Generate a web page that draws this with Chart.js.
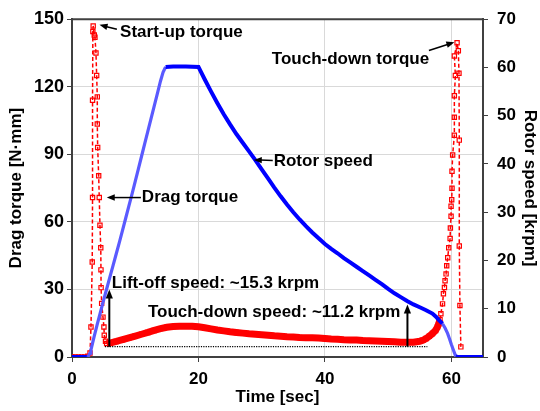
<!DOCTYPE html>
<html>
<head>
<meta charset="utf-8">
<script src="https://cdn.jsdelivr.net/npm/chart.js@4"></script>
<style>
  html, body { margin: 0; padding: 0; background: #fff; }
  #wrap { width: 540px; height: 411px; }
</style>
</head>
<body>
<div id="wrap"><canvas id="chart" width="540" height="411"></canvas></div>
<script>
// ===== Data =====
// Rotor speed (right axis, krpm)
const speedTime = [0, 1, 2, 2.5, 2.85, 3, 3.5, 4, 4.5, 5, 5.5, 6, 6.5, 7, 7.5, 8, 8.5, 9, 9.5, 10,
  10.5, 11, 11.5, 12, 12.5, 13, 13.5, 14, 14.4, 14.8, 16, 18, 20,
  21, 22, 23, 24, 25, 26, 27, 28, 29, 30, 31, 32, 33, 34, 35, 36, 37, 38, 39, 40,
  41, 42, 43, 44, 45, 46, 47, 48, 49, 50, 51, 52, 53, 54, 55, 56, 57, 57.6, 58, 58.6,
  59, 59.4, 59.7, 60, 60.3, 60.5, 60.7, 61, 62, 63, 64, 65];
const speedKrpm = [0, 0, 0, 0, 0.8, 1.5, 4.2, 6.8, 9.3, 11.8, 14.2, 16.6, 19, 21.4, 23.8, 26.3, 28.8, 31.3, 33.8, 36.4,
  39, 41.6, 44.2, 46.8, 49.4, 52, 54.6, 57.2, 59, 60.1, 60.2, 60.2, 60.1,
  57.5, 55, 52.6, 50.3, 48.2, 46.2, 44.4, 42.6, 40.8, 38.9, 37, 35.1, 33.3, 31.6, 30, 28.5, 27.1, 25.8, 24.6, 23.4,
  22.4, 21.5, 20.5, 19.6, 18.7, 17.8, 16.9, 16, 15.1, 14.1, 13.2, 12.4, 11.6, 10.9, 10.3, 9.7, 9, 8.3, 7.7, 6.9,
  6, 4.9, 3.8, 2.6, 1.5, 0.8, 0.1, 0, 0, 0, 0, 0];

// Drag torque (left axis, N·mm)
const torqueTime = [0, 0.5, 1, 1.5, 2, 2.5, 2.85, 3, 3.2, 3.25, 3.25, 3.3, 3.35,
  3.52, 3.63, 3.79, 3.9, 4, 4, 4.06, 4.22, 4.31, 4.42, 4.55, 4.58, 4.6, 4.69, 4.9, 5.05, 5.1, 5.3, 5.48,
  6, 7, 8, 9, 10, 11, 12, 13, 14, 15, 16, 17, 18, 19, 20, 21, 22, 23, 24, 25, 26, 27, 28, 29, 30,
  31, 32, 33, 34, 35, 36, 37, 38, 39, 40, 41, 42, 43, 44, 45, 46, 47, 48, 49, 50, 51, 52, 53, 54, 55,
  55.5, 56, 56.5, 57, 57.5, 57.8, 58, 58.2,
  58.34, 58.6, 58.74, 58.9, 59, 59.16, 59.26, 59.42, 59.58, 59.8, 59.84, 59.95, 59.95, 60.05, 60.1, 60.1,
  60.2, 60.47, 60.47, 60.47, 60.63, 60.47, 60.9,
  61.1, 61.2, 61.25, 61.25, 61.35, 61.5];
const torqueNmm = [0, 0, 0, 0, 0, 0.3, 1.8, 13.3, 42.2, 70.8, 114, 144.5, 147,
  143, 142, 135, 125, 115.5, 103.5, 93, 80.5, 70.8, 58.5, 48.5, 38.7, 30.8, 23.8, 17.7, 13.3, 9.7, 7, 6,
  6.2, 6.9, 7.7, 8.5, 9.3, 10.1, 10.9, 11.8, 12.6, 13.2, 13.5, 13.7, 13.7, 13.7, 13.4, 13, 12.5, 12, 11.6, 11.2, 10.9, 10.6, 10.3, 10.1, 9.9,
  9.7, 9.4, 9.2, 9, 8.9, 8.7, 8.6, 8.5, 8.4, 8.2, 8, 7.9, 7.7, 7.6, 7.5, 7.3, 7.2, 7.1, 7, 6.9, 6.8, 6.6, 6.5, 6.6, 7,
  7.4, 8.2, 9.2, 10.4, 11.8, 13.3, 14.8, 16.6,
  19.2, 23.6, 28.1, 30.9, 33.9, 36.9, 40.5, 44.1, 48.5, 52.6, 57.3, 62.5, 66.9, 69.8, 74.9, 82.5,
  89.7, 98.5, 106.5, 116, 125, 133.7, 139.5,
  136, 126, 96.3, 49.3, 22.9, 4.5];

// Axis ticks
const timeTicks = [0, 20, 40, 60];
const torqueTicks = [0, 30, 60, 90, 120, 150];
const speedTicks = [0, 10, 20, 30, 40, 50, 60, 70];

const FONT = '"Liberation Sans", Arial, sans-serif';
const AXIS = '#404040';
const GRID = '#d9d9d9';

function xy(ts, vs) {
  return ts.map((t, i) => ({ x: t, y: vs[i] }));
}

function setTicks(list) {
  return scale => { scale.ticks = list.map(v => ({ value: v })); };
}

// ===== Annotations (arrows, texts, dotted line) =====
const notes = {
  id: 'notes',
  afterDatasetsDraw(chart) {
    const { ctx, chartArea } = chart;
    const sx = chart.scales.x, sy = chart.scales.yL;
    const P = (t, v) => [sx.getPixelForValue(t), sy.getPixelForValue(v)];

    ctx.save();
    // top frame line
    ctx.strokeStyle = AXIS;
    ctx.lineWidth = 2;
    ctx.beginPath();
    ctx.moveTo(chartArea.left - 1, chartArea.top);
    ctx.lineTo(chartArea.right + 1, chartArea.top);
    ctx.stroke();

    // dotted baseline
    let a = P(5.2, 4.6), b = P(56.2, 4.6);
    ctx.strokeStyle = '#000';
    ctx.lineWidth = 1.3;
    ctx.setLineDash([1.2, 1.2]);
    ctx.beginPath();
    ctx.moveTo(a[0], a[1]);
    ctx.lineTo(b[0], b[1]);
    ctx.stroke();
    ctx.setLineDash([]);

    function arrow(from, to, w, head) {
      const [x1, y1] = from, [x2, y2] = to;
      const ang = Math.atan2(y2 - y1, x2 - x1);
      ctx.strokeStyle = '#000';
      ctx.fillStyle = '#000';
      ctx.lineWidth = w;
      ctx.beginPath();
      ctx.moveTo(x1, y1);
      ctx.lineTo(x2 - Math.cos(ang) * head * 0.8, y2 - Math.sin(ang) * head * 0.8);
      ctx.stroke();
      ctx.beginPath();
      ctx.moveTo(x2, y2);
      ctx.lineTo(x2 - head * Math.cos(ang) + head * 0.4 * Math.sin(ang), y2 - head * Math.sin(ang) - head * 0.4 * Math.cos(ang));
      ctx.lineTo(x2 - head * Math.cos(ang) - head * 0.4 * Math.sin(ang), y2 - head * Math.sin(ang) + head * 0.4 * Math.cos(ang));
      ctx.closePath();
      ctx.fill();
    }

    arrow(P(7.1, 145.5), P(4.35, 147.5), 1.5, 8);
    arrow(P(56.45, 136.1), P(60.47, 139.8), 1.5, 8);
    arrow(P(31.75, 87.3), P(28.75, 87.5), 1.5, 8);
    arrow(P(10.9, 70.8), P(5.5, 70.8), 1.5, 8);
    arrow(P(5.9, 4.6), P(5.9, 30), 2, 9);
    arrow(P(53.05, 4.6), P(53.05, 23.3), 2, 9);

    ctx.fillStyle = '#000';
    ctx.font = 'bold 17px ' + FONT;
    ctx.textAlign = 'left';
    ctx.textBaseline = 'middle';
    const text = (s, t, v) => { const p = P(t, v); ctx.fillText(s, p[0], p[1]); };
    text('Start-up torque', 7.6, 144);
    text('Touch-down torque', 31.6, 132);
    text('Rotor speed', 31.9, 87.1);
    text('Drag torque', 11.05, 70.8);
    text('Lift-off speed: ~15.3 krpm', 6.3, 32.6);
    text('Touch-down speed: ~11.2 krpm', 12.0, 19.8);
    ctx.restore();
  }
};

document.addEventListener("DOMContentLoaded", () => {
  const ctx = document.getElementById("chart").getContext("2d");

  const inBand = c => c.p0.parsed.x >= 5.48 && c.p1.parsed.x <= 58.2;
  const inRamp = c => (c.p0.parsed.x >= 2.5 && c.p1.parsed.x <= 14.8) ||
                      (c.p0.parsed.x >= 58.6 && c.p1.parsed.x <= 60.7);

  new Chart(ctx, {
    type: "scatter",
    data: {
      datasets: [
        {
          label: "Rotor speed",
          data: xy(speedTime, speedKrpm),
          yAxisID: "yR",
          showLine: true,
          borderColor: "#0000ff",
          borderWidth: 4,
          pointRadius: 0,
          segment: {
            borderColor: c => inRamp(c) ? "#5a5aff" : undefined,
            borderWidth: c => inRamp(c) ? 3.2 : undefined
          }
        },
        {
          label: "Drag torque",
          data: xy(torqueTime, torqueNmm),
          yAxisID: "yL",
          showLine: true,
          borderColor: "#ff0000",
          borderWidth: 1.5,
          borderDash: [4, 2.5],
          pointStyle: "rect",
          pointRadius: 3,
          pointBorderWidth: 1.2,
          pointBorderColor: "#ff0000",
          pointBackgroundColor: "rgba(255,255,255,0)",
          segment: {
            borderWidth: c => inBand(c) ? 7 : undefined,
            borderDash: c => inBand(c) ? [] : undefined
          }
        }
      ]
    },
    options: {
      responsive: false,
      animation: false,
      layout: { padding: { top: 16, left: 0, right: 0, bottom: 0 } },
      plugins: { legend: { display: false }, tooltip: { enabled: false } },
      scales: {
        x: {
          type: "linear",
          min: 0,
          max: 65,
          afterBuildTicks: setTicks(timeTicks),
          afterFit: s => { s.height = 54; },
          grid: { color: GRID, tickColor: AXIS, tickLength: 5 },
          border: { color: AXIS, width: 2 },
          ticks: { color: "#000", padding: 7, font: { family: FONT, size: 17, weight: "bold" } },
          title: { display: true, text: "Time [sec]", color: "#000", padding: 3,
                   font: { family: FONT, size: 17, weight: "bold" } }
        },
        yL: {
          type: "linear",
          position: "left",
          min: 0,
          max: 150,
          afterBuildTicks: setTicks(torqueTicks),
          afterFit: s => { s.width = 72; },
          grid: { color: GRID, tickColor: AXIS, tickLength: 5 },
          border: { color: AXIS, width: 2 },
          ticks: { color: "#000", padding: 3, font: { family: FONT, size: 18, weight: "bold" } },
          title: { display: true, text: "Drag torque [N·mm]", color: "#000", padding: 6,
                   font: { family: FONT, size: 17, weight: "bold" } }
        },
        yR: {
          type: "linear",
          position: "right",
          min: 0,
          max: 70,
          afterBuildTicks: setTicks(speedTicks),
          afterFit: s => { s.width = 57; },
          grid: { drawOnChartArea: false, color: AXIS, tickColor: AXIS, tickLength: 5 },
          border: { color: AXIS, width: 2 },
          ticks: { color: "#000", padding: 9, font: { family: FONT, size: 17, weight: "bold" } },
          title: { display: true, text: "Rotor speed [krpm]", color: "#000", padding: 0,
                   font: { family: FONT, size: 17, weight: "bold" } }
        }
      }
    },
    plugins: [notes]
  });
});
</script>
</body>
</html>
